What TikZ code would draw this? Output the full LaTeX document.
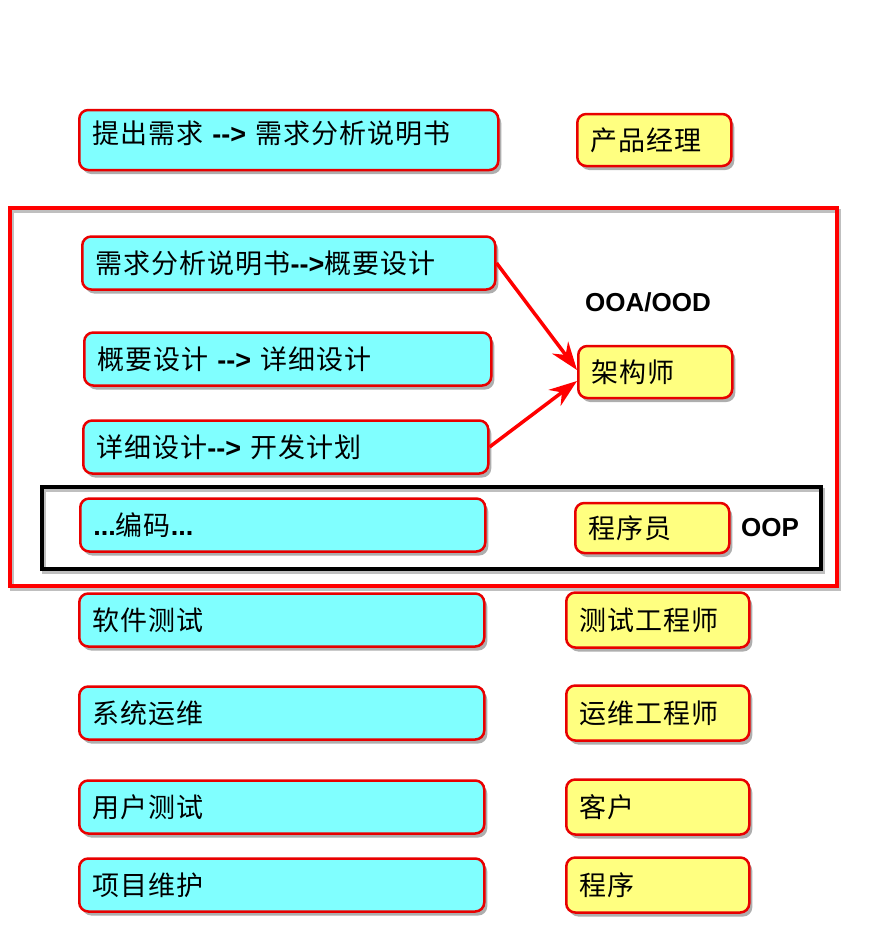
\documentclass[tikz,border=0pt]{standalone}
\usepackage{fontspec}
\setmainfont[LetterSpace=4]{Noto Sans CJK SC}
\newfontfamily\latin{Liberation Sans}
\usetikzlibrary{arrows.meta,shadows}
\definecolor{boxred}{RGB}{232,0,0}
\definecolor{taskcyan}{RGB}{128,255,255}
\definecolor{roleyellow}{RGB}{255,255,128}
\def\arrw{{\latin\bfseries -\kern0pt->}}
\def\dots{{\latin\bfseries .\kern0pt.\kern0pt.}}

\begin{document}
\begin{tikzpicture}[x=1pt, y=-1pt, every node/.style={font=\fontsize{27}{31}\selectfont}]
			\tikzstyle{card}=[rectangle,rounded corners=9pt,draw=boxred,line width=2.5pt,anchor=west,align=left,inner xsep=13pt,minimum height=53pt,drop shadow={shadow xshift=3pt,shadow yshift=-4pt,opacity=0.45,fill=black!70}]
			\tikzstyle{task}=[card,fill=taskcyan]
			\tikzstyle{role}=[card,fill=roleyellow]
			\tikzstyle{tag}=[font=\latin\bfseries\fontsize{26}{30}\selectfont]
			\tikzstyle{link}=[draw=red,line width=3.5pt,-{Stealth[length=28pt,width=20pt]}]
			\tikzstyle{frame}=[line width=3.5pt,preaction={draw=black!25,line width=3.5pt,transform canvas={shift={(2pt,-3pt)}}}]
			\useasboundingbox (0,0) rectangle (889,929);
			
			% stage frames
			\draw[frame,draw=red] (10,208) rectangle (837,586);
			\draw[frame,draw=black] (42,487) rectangle (821,569);
			
			\node[task,text width=393pt,minimum height=60pt,text height=20pt,text depth=14pt](t-1) at (78,140) {提出需求 \arrw{} 需求分析说明书};
			\node[task,text width=387pt](t-2) at (81,263) {需求分析说明书\arrw{}概要设计};
			\node[task,text width=381pt](t-3) at (83,359) {概要设计 \arrw{} 详细设计};
			\node[task,text width=379pt](t-4) at (82,447) {详细设计\arrw{} 开发计划};
			\node[task,text width=379pt](t-5) at (79,525) {\dots 编码\dots};
			
			\node[role,text width=128pt,minimum height=52pt](p-1) at (576,140) {产品经理};
			\node[role,text width=128pt,minimum height=52pt](p-2) at (577,372) {架构师};
			\node[role,text width=128pt,minimum height=50pt](p-5) at (574,528) {程序员};
			
			\node[tag](ood) at (648,302) {OOA/OOD};
			\node[tag](oop) at (770,528) {OOP};
			
			\foreach \y/\a/\b [count=\i from 6] in {620/软件测试/测试工程师,713/系统运维/运维工程师,807/用户测试/客户,885/项目维护/程序}
			{
			\node[task,text width=379pt](t-\i) at (78,\y) {\a};
			\node[role,text width=157pt,minimum height=55pt](p-\i) at (565,\y) {\b};
			}
			
			\path[link] (t-2.east) -- ([yshift=2pt]p-2.west);
			\path[link] (t-4.east) -- ([yshift=-9pt]p-2.west);
\end{tikzpicture}
\end{document}
